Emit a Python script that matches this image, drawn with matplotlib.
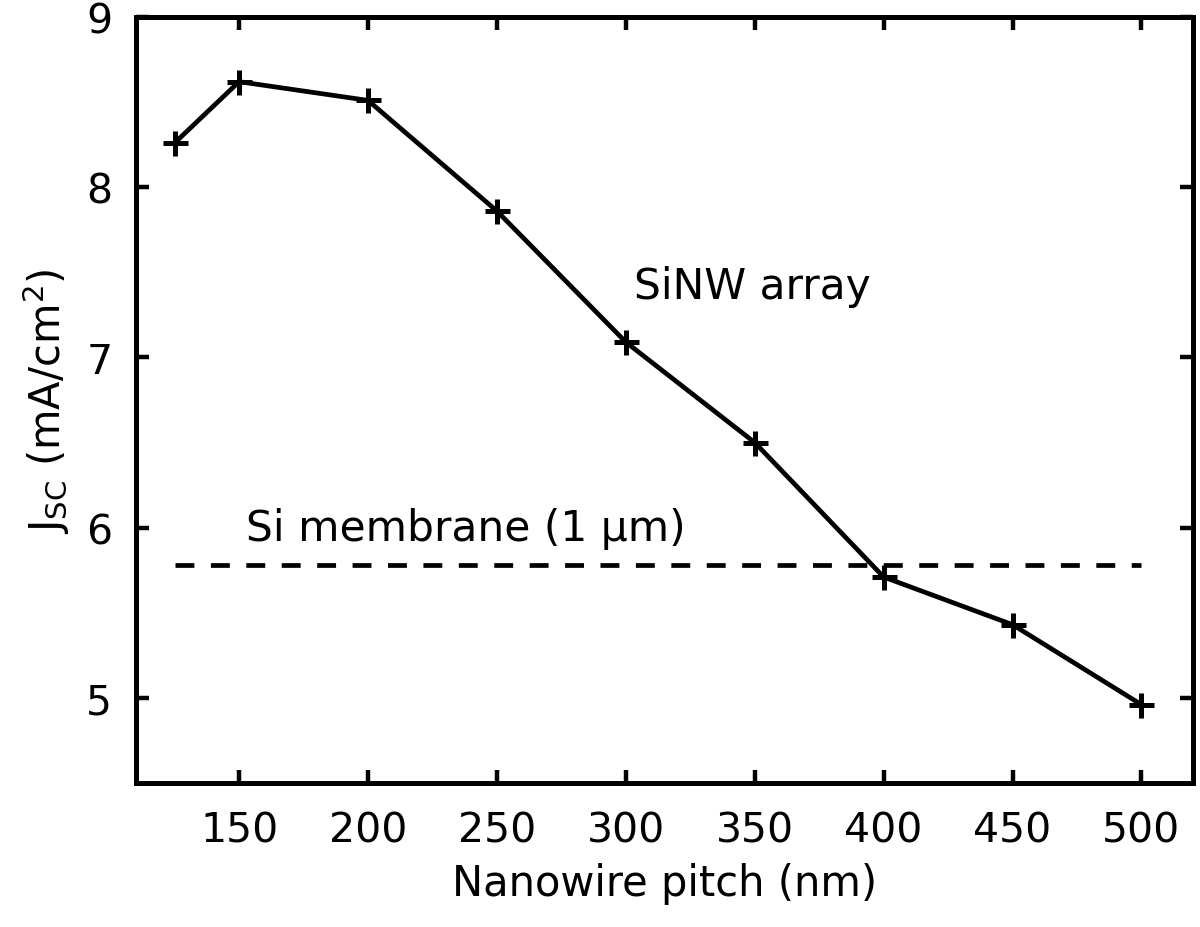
import matplotlib
matplotlib.use("Agg")
import matplotlib.pyplot as plt

# nanowire pitch (nm) and short-circuit current density (mA/cm^2)
pitch = [125, 150, 200, 250, 300, 350, 400, 450, 500]
jsc = [8.26, 8.62, 8.51, 7.86, 7.09, 6.50, 5.71, 5.43, 4.96]

membrane_x = [125, 500]
membrane_jsc = [5.78, 5.78]

xticks = [150, 200, 250, 300, 350, 400, 450, 500]
yticks = [5, 6, 7, 8, 9]

plt.rcParams['font.family'] = ['DejaVu Sans']
plt.rcParams['mathtext.fontset'] = 'dejavusans'

fig = plt.figure(figsize=(12, 9.28), dpi=100)
ax = fig.add_axes([0.1133, 0.1552, 0.8809, 0.8254])

ax.plot(pitch, jsc, color='black', lw=3.4, marker='+', ms=18, mew=3.6)
ax.plot(membrane_x, membrane_jsc, color='black', lw=3.4, ls=(0, (4, 3.5)))

ax.text(349, 7.42, "SiNW array", fontsize=30.5, ha='center', va='center')
ax.text(238, 6.0, "Si membrane (1 µm)", fontsize=30.5, ha='center', va='center')

ax.set_xlim(110, 520)
ax.set_ylim(4.5, 9)
ax.set_xticks(xticks)
ax.set_yticks(yticks)

ax.tick_params(direction='in', length=9.5, width=3.2, labelsize=29.5,
               top=True, right=True)
ax.tick_params(axis='x', pad=20)
ax.tick_params(axis='y', pad=17)
for s in ax.spines.values():
    s.set_linewidth(3.6)

ax.set_xlabel("Nanowire pitch (nm)", fontsize=30, labelpad=8)
ax.set_ylabel(r"J$_{\mathrm{SC}}$ (mA/cm$^2$)", fontsize=30, labelpad=10)

fig.savefig("out.png", dpi=100)
